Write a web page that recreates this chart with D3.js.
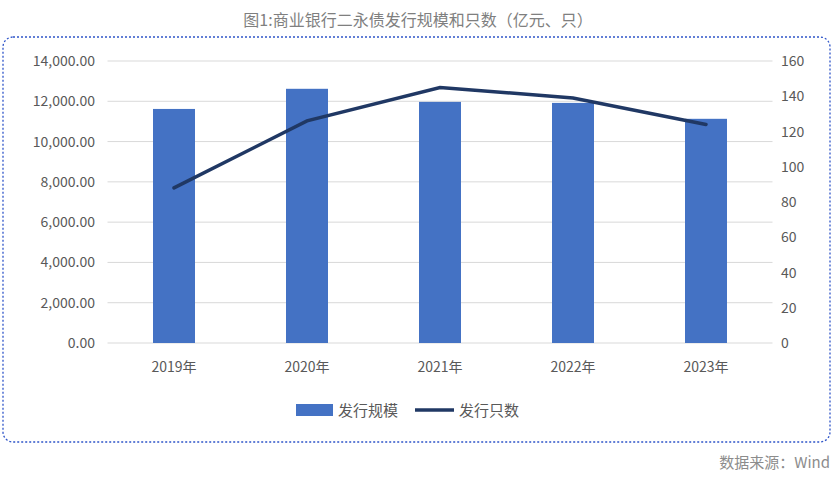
<!DOCTYPE html>
<html><head><meta charset="utf-8">
<script src="https://cdn.jsdelivr.net/npm/d3@7"></script>
<style>body{margin:0;background:#fff;font-family:"Noto Sans CJK SC","Noto Sans",sans-serif;}</style>
</head><body>
<svg id="chart" width="836" height="482"></svg>
<script>
const years = ['2019年', '2020年', '2021年', '2022年', '2023年'];
const scale = [11620, 12620, 11970, 11920, 11130];
const counts = [88, 126, 145, 139, 124];
const leftTicks = [0, 2000, 4000, 6000, 8000, 10000, 12000, 14000];
const rightTicks = [0, 20, 40, 60, 80, 100, 120, 140, 160];

const svg = d3.select('#chart');
const plotTop = 61, plotBottom = 343;

// frame + title + source
svg.append('rect')
  .attr('x', 3).attr('y', 37).attr('width', 827).attr('height', 405)
  .attr('rx', 10).attr('fill', 'none')
  .attr('stroke', '#2f55c9').attr('stroke-width', 1.3).attr('stroke-dasharray', '2,2');
svg.append('text').attr('x', 418).attr('y', 26).attr('text-anchor', 'middle')
  .attr('font-size', 16).attr('fill', '#7f7f7f').text('图1:商业银行二永债发行规模和只数（亿元、只）');
svg.append('text').attr('x', 830).attr('y', 468).attr('text-anchor', 'end')
  .attr('font-size', 15).attr('fill', '#8c8c8c').text('数据来源：Wind');

const x = d3.scaleBand().domain(years).range([107.5, 772.5]);
const yL = d3.scaleLinear().domain([0, 14000]).range([plotBottom, plotTop]);
const yR = d3.scaleLinear().domain([0, 160]).range([plotBottom, plotTop]);

// grid
svg.append('g').selectAll('line').data(leftTicks).join('line')
  .attr('x1', 107.5).attr('x2', 772.5)
  .attr('y1', d => yL(d)).attr('y2', d => yL(d))
  .attr('stroke', '#d9d9d9');

const fmt = d3.format(',.2f');
svg.append('g').selectAll('text').data(leftTicks).join('text')
  .attr('x', 95).attr('y', d => yL(d) + 5).attr('text-anchor', 'end')
  .attr('font-size', 14).attr('fill', '#595959').text(d => fmt(d));
svg.append('g').selectAll('text').data(rightTicks).join('text')
  .attr('x', 781).attr('y', d => yR(d) + 5)
  .attr('font-size', 14).attr('fill', '#595959').text(d => d);
svg.append('g').selectAll('text').data(years).join('text')
  .attr('x', d => x(d) + x.bandwidth() / 2).attr('y', 372).attr('text-anchor', 'middle')
  .attr('font-size', 14).attr('fill', '#595959').text(d => d);

// bars
const bw = 42;
svg.append('g').selectAll('rect').data(scale).join('rect')
  .attr('x', (d, i) => x(years[i]) + x.bandwidth() / 2 - bw / 2)
  .attr('y', d => yL(d)).attr('width', bw).attr('height', d => plotBottom - yL(d))
  .attr('fill', '#4472c4');

// line
svg.append('path').datum(counts)
  .attr('d', d3.line().x((d, i) => x(years[i]) + x.bandwidth() / 2).y(d => yR(d)))
  .attr('fill', 'none').attr('stroke', '#203864').attr('stroke-width', 3.5).attr('stroke-linecap', 'round');

// legend
svg.append('rect').attr('x', 296).attr('y', 404).attr('width', 37).attr('height', 12).attr('fill', '#4472c4');
svg.append('text').attr('x', 338).attr('y', 416).attr('font-size', 15).attr('fill', '#595959').text('发行规模');
svg.append('line').attr('x1', 415).attr('x2', 454).attr('y1', 410).attr('y2', 410)
  .attr('stroke', '#203864').attr('stroke-width', 3.5);
svg.append('text').attr('x', 459).attr('y', 416).attr('font-size', 15).attr('fill', '#595959').text('发行只数');
</script>
</body></html>
